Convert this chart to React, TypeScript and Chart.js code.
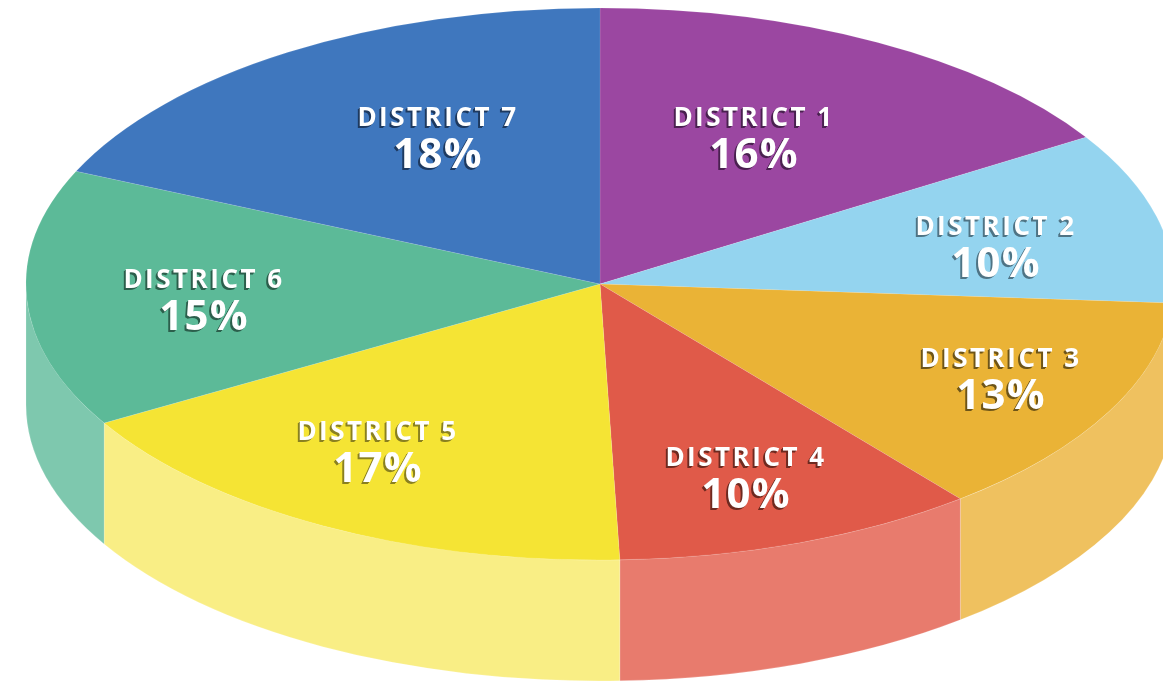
import React, { useEffect, useRef } from "react";
import { Chart, registerables } from "chart.js";

Chart.register(...registerables);

const districts = ["DISTRICT 1", "DISTRICT 2", "DISTRICT 3", "DISTRICT 4", "DISTRICT 5", "DISTRICT 6", "DISTRICT 7"];
const shownPercent = [16, 10, 13, 10, 17, 15, 18];
const sectorSizes = [16.07, 10.03, 13.1, 10.25, 17.15, 15.1, 18.3];
const topColors = ["#9B47A1", "#94D4EF", "#EAB336", "#E05A49", "#F5E434", "#5CBA98", "#3F77BE"];
const wallColors = ["#B67EBB", "#B4E1F4", "#EFC15F", "#E87B6D", "#F9EE85", "#7EC8AE", "#6F99CF"];
const shadowColors = ["#4A2150", "#4F7485", "#6E5518", "#6E2A20", "#8A8020", "#2C5F4C", "#1E3A60"];

const labelX = [754, 996, 1001, 746, 378, 204, 438];
const labelY = [126, 235, 367, 466, 440, 288, 126];

const TILT = 276 / 574;
const CENTER_Y = 284;
const DEPTH = 121;
const RADIUS = 574;

const pie3d = {
  id: "pie3d",
  beforeDatasetsDraw(chart: any) {
    const ctx = chart.ctx;
    const arcs = chart.getDatasetMeta(0).data;
    arcs.forEach((arc: any, i: number) => {
      const a = Math.max(arc.startAngle, 0);
      const b = Math.min(arc.endAngle, Math.PI);
      if (b <= a) return;
      const rx = arc.outerRadius;
      const ry = rx * TILT;
      ctx.save();
      ctx.beginPath();
      ctx.ellipse(arc.x, CENTER_Y, rx, ry, 0, a, b, false);
      ctx.ellipse(arc.x, CENTER_Y + DEPTH, rx, ry, 0, b, a, true);
      ctx.closePath();
      ctx.fillStyle = wallColors[i];
      ctx.fill();
      ctx.strokeStyle = "rgba(255,255,255,0.25)";
      ctx.lineWidth = 0.7;
      ctx.stroke();
      ctx.restore();
    });
  },
  beforeDatasetDraw(chart: any) {
    const ctx = chart.ctx;
    const arc = chart.getDatasetMeta(0).data[0];
    ctx.save();
    ctx.translate(arc.x, CENTER_Y);
    ctx.scale(1, TILT);
    ctx.translate(-arc.x, -arc.y);
  },
  afterDatasetDraw(chart: any) {
    chart.ctx.restore();
  },
  afterDatasetsDraw(chart: any) {
    const ctx = chart.ctx;
    ctx.save();
    ctx.textAlign = "center";
    ctx.textBaseline = "alphabetic";
    districts.forEach((name, i) => {
      const lines = [
        { text: name, font: "bold 26px 'Open Sans'", spacing: "2.5px", y: labelY[i] },
        { text: shownPercent[i] + "%", font: "bold 42px 'Open Sans'", spacing: "1.2px", y: labelY[i] + 42 },
      ];
      lines.forEach((l) => {
        ctx.font = l.font;
        (ctx as any).letterSpacing = l.spacing;
        ctx.fillStyle = shadowColors[i];
        ctx.fillText(l.text, labelX[i] - 2, l.y + 2);
        ctx.fillText(l.text, labelX[i] - 1, l.y + 1);
        ctx.fillStyle = "#FFFFFF";
        ctx.fillText(l.text, labelX[i], l.y);
      });
    });
    ctx.restore();
  },
};

export default function App() {
  const ref = useRef<HTMLCanvasElement>(null);
  useEffect(() => {
    document.body.style.margin = "0";
    const chart = new Chart(ref.current!, {
      type: "pie",
      data: {
        labels: districts,
        datasets: [
          {
            data: sectorSizes,
            backgroundColor: topColors,
            borderColor: "rgba(255,255,255,0.22)",
            borderWidth: 0.7,
            clip: false,
          } as any,
        ],
      },
      options: {
        responsive: false,
        animation: false,
        radius: RADIUS,
        layout: { padding: { left: 37 } },
        plugins: { legend: { display: false }, tooltip: { enabled: false } },
      } as any,
      plugins: [pie3d],
    });
    return () => chart.destroy();
  }, []);
  return (
    <canvas
      ref={ref}
      width={1163}
      height={683}
      style={{ display: "block", position: "absolute", left: 0, top: 0 }}
    />
  );
}
